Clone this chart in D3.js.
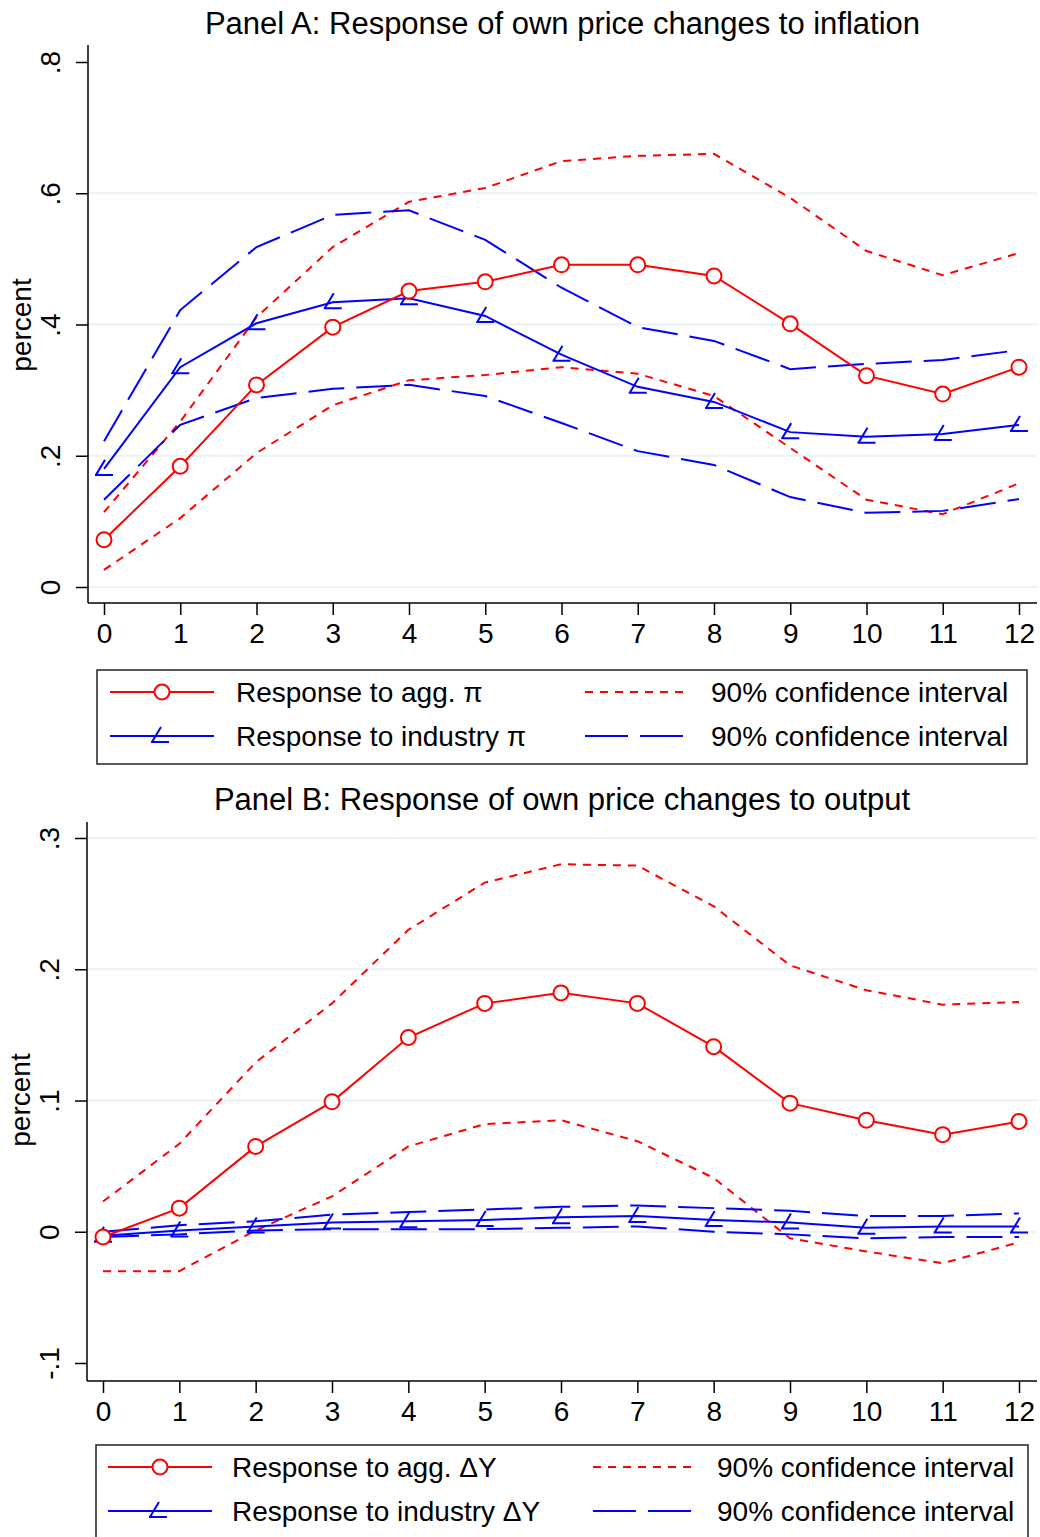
<!DOCTYPE html>
<html>
<head>
<meta charset="utf-8">
<script src="https://cdn.jsdelivr.net/npm/d3@7"></script>
<style>
body{margin:0;background:#fff}
text{font-family:"Liberation Sans",Arial,sans-serif}
</style>
</head>
<body>
<svg id="graph" width="1040" height="1537"></svg>
<script>
// horizons
var steps = [0,1,2,3,4,5,6,7,8,9,10,11,12]

// Panel A: response to inflation
var aggPi      = [0.072,0.184,0.308,0.396,0.451,0.465,0.491,0.491,0.474,0.401,0.322,0.294,0.335]
var aggPiHi    = [0.114,0.252,0.411,0.518,0.587,0.608,0.649,0.657,0.660,0.593,0.512,0.475,0.509]
var aggPiLo    = [0.026,0.105,0.204,0.277,0.315,0.323,0.335,0.325,0.291,0.212,0.133,0.111,0.158]
var indPi      = [0.180,0.335,0.402,0.434,0.440,0.413,0.354,0.305,0.282,0.236,0.229,0.233,0.247]
var indPiHi    = [0.222,0.422,0.518,0.567,0.574,0.529,0.456,0.396,0.375,0.332,0.340,0.346,0.361]
var indPiLo    = [0.133,0.247,0.288,0.302,0.308,0.291,0.250,0.207,0.186,0.137,0.113,0.116,0.134]

// Panel B: response to output
var aggY       = [-0.004,0.018,0.065,0.099,0.148,0.174,0.182,0.174,0.141,0.098,0.085,0.074,0.084]
var aggYHi     = [0.023,0.067,0.129,0.174,0.230,0.266,0.280,0.279,0.248,0.203,0.184,0.173,0.175]
var aggYLo     = [-0.030,-0.030,0.001,0.027,0.065,0.082,0.085,0.069,0.041,-0.005,-0.015,-0.024,-0.008]
var indY       = [-0.003,0.001,0.004,0.007,0.008,0.009,0.011,0.012,0.009,0.007,0.003,0.004,0.004]
var indYHi     = [0.000,0.005,0.008,0.013,0.015,0.017,0.019,0.020,0.018,0.016,0.012,0.012,0.014]
var indYLo     = [-0.004,-0.002,0.001,0.002,0.002,0.002,0.003,0.004,0.000,-0.002,-0.005,-0.004,-0.004]

var ticksA = [0,0.2,0.4,0.6,0.8]
var ticksB = [-0.1,0,0.1,0.2,0.3]

var titleA = "Panel A: Response of own price changes to inflation"
var titleB = "Panel B: Response of own price changes to output"
var legA = ["Response to agg. π","Response to industry π","90% confidence interval","90% confidence interval"]
var legB = ["Response to agg. ΔY","Response to industry ΔY","90% confidence interval","90% confidence interval"]

var RED = "#ff0000", BLUE = "#0000ff"
var redDash = "8,7", blueDash = "36,12"

var svg = d3.select("#graph")
svg.append("rect").attr("width",1040).attr("height",1537).attr("fill","#fff")

function fmt(d){
    if (d===0) return "0"
    return d3.format(".1f")(d).replace("\u2212","-").replace("0.",".")
}

function angleMarker(g, x, y){
    g.append("path")
        .attr("d","M"+(x-9)+","+(y+6)+"H"+(x+9)+"M"+(x-8)+","+(y+6)+"L"+(x+1)+","+(y-9))
        .attr("stroke",BLUE).attr("stroke-width",2).attr("fill","none")
}

function drawPanel(opt){
    var g = svg.append("g")
    var x = d3.scaleLinear().domain([0,12]).range([opt.x0,opt.x1])
    var y = d3.scaleLinear().domain(opt.ydom).range(opt.yrng)

    // gridlines
    g.selectAll(".grid").data(opt.grid).enter().append("line")
        .attr("x1",opt.left).attr("x2",opt.right)
        .attr("y1",d=>y(d)).attr("y2",d=>y(d))
        .attr("stroke","#eaf2f3").attr("stroke-width",2)

    // title
    g.append("text").attr("x",(opt.left+opt.right)/2).attr("y",opt.titleY)
        .attr("text-anchor","middle").attr("font-size",31).text(opt.title)

    // y axis
    var ya = g.append("g").attr("transform","translate("+opt.left+",0)")
        .call(d3.axisLeft(y).tickValues(opt.ticks).tickFormat(fmt).tickSize(12).tickPadding(10))
    ya.select(".domain").attr("d","M0,"+opt.top+"V"+opt.bottom).attr("stroke","#000").attr("stroke-width",1.5)
    ya.selectAll(".tick line").attr("stroke","#000").attr("stroke-width",1.5)
    ya.selectAll(".tick text")
        .attr("font-size",28).attr("font-family","Liberation Sans, Arial, sans-serif").attr("fill","#000")
        .attr("text-anchor","middle").attr("x",0).attr("dy",0)
        .attr("transform","translate(-38,0) rotate(-90)")
        .attr("dominant-baseline","central")

    g.append("text").attr("transform","translate("+opt.ylabX+","+opt.ylabY+") rotate(-90)")
        .attr("text-anchor","middle").attr("font-size",28).text("percent")

    // x axis
    var xa = g.append("g").attr("transform","translate(0,"+opt.bottom+")")
        .call(d3.axisBottom(x).tickValues(steps).tickFormat(d3.format("d")).tickSize(12).tickPadding(8))
    xa.select(".domain").attr("d","M"+opt.left+",0H"+opt.right).attr("stroke","#000").attr("stroke-width",1.5)
    xa.selectAll(".tick line").attr("stroke","#000").attr("stroke-width",1.5)
    xa.selectAll(".tick text").attr("font-size",28).attr("font-family","Liberation Sans, Arial, sans-serif").attr("fill","#000")

    var line = d3.line().x((d,i)=>x(steps[i])).y(d=>y(d))

    function path(arr, color, dash){
        g.append("path").datum(arr).attr("d",line)
            .attr("fill","none").attr("stroke",color).attr("stroke-width",2)
            .attr("stroke-dasharray",dash)
    }
    path(opt.s[1], RED, redDash)
    path(opt.s[2], RED, redDash)
    path(opt.s[4], BLUE, blueDash)
    path(opt.s[5], BLUE, blueDash)
    path(opt.s[3], BLUE, null)
    path(opt.s[0], RED, null)

    opt.s[3].forEach((d,i)=>angleMarker(g, x(steps[i]), y(d)))
    g.selectAll(".circ").data(opt.s[0]).enter().append("circle")
        .attr("cx",(d,i)=>x(steps[i])).attr("cy",d=>y(d)).attr("r",7.5)
        .attr("fill","#fff").attr("stroke",RED).attr("stroke-width",2)

    // legend
    var L = opt.leg
    g.append("rect").attr("x",L.x).attr("y",L.y).attr("width",L.w).attr("height",L.h)
        .attr("fill","#fff").attr("stroke","#222").attr("stroke-width",1.5)
    var rows = [L.y+22, L.y+66]
    // col 1
    g.append("line").attr("x1",L.k1).attr("x2",L.k1+104).attr("y1",rows[0]).attr("y2",rows[0])
        .attr("stroke",RED).attr("stroke-width",2)
    g.append("circle").attr("cx",L.k1+52).attr("cy",rows[0]).attr("r",7.5)
        .attr("fill","#fff").attr("stroke",RED).attr("stroke-width",2)
    g.append("line").attr("x1",L.k1).attr("x2",L.k1+104).attr("y1",rows[1]).attr("y2",rows[1])
        .attr("stroke",BLUE).attr("stroke-width",2)
    angleMarker(g, L.k1+50, rows[1])
    // col 2
    g.append("line").attr("x1",L.k2).attr("x2",L.k2+104).attr("y1",rows[0]).attr("y2",rows[0])
        .attr("stroke",RED).attr("stroke-width",2).attr("stroke-dasharray",redDash)
    g.append("line").attr("x1",L.k2).attr("x2",L.k2+100).attr("y1",rows[1]).attr("y2",rows[1])
        .attr("stroke",BLUE).attr("stroke-width",2).attr("stroke-dasharray","43,12")
    var tx = [L.t1, L.t1, L.t2, L.t2]
    var ty = [rows[0], rows[1], rows[0], rows[1]]
    opt.labels.forEach((t,i)=>{
        g.append("text").attr("x",tx[i]).attr("y",ty[i]).attr("dy","0.35em")
            .attr("font-size",28).text(t)
    })
}

drawPanel({
    title:titleA, titleY:34, x0:104, x1:1019, left:88, right:1037, top:45, bottom:603,
    ydom:[0,0.8], yrng:[587,62], ticks:ticksA, grid:[0,0.2,0.4,0.6], ylabX:31, ylabY:325,
    s:[aggPi,aggPiHi,aggPiLo,indPi,indPiHi,indPiLo], labels:legA,
    leg:{x:97,y:670,w:930,h:94,k1:110,k2:585,t1:236,t2:711}
})

drawPanel({
    title:titleB, titleY:810, x0:103, x1:1019, left:87, right:1037, top:822, bottom:1381,
    ydom:[-0.1,0.3], yrng:[1363,838], ticks:ticksB, grid:[0,0.1,0.2,0.3], ylabX:30, ylabY:1100,
    s:[aggY,aggYHi,aggYLo,indY,indYHi,indYLo], labels:legB,
    leg:{x:96,y:1445,w:932,h:100,k1:108,k2:593,t1:232,t2:717}
})
</script>
</body>
</html>
